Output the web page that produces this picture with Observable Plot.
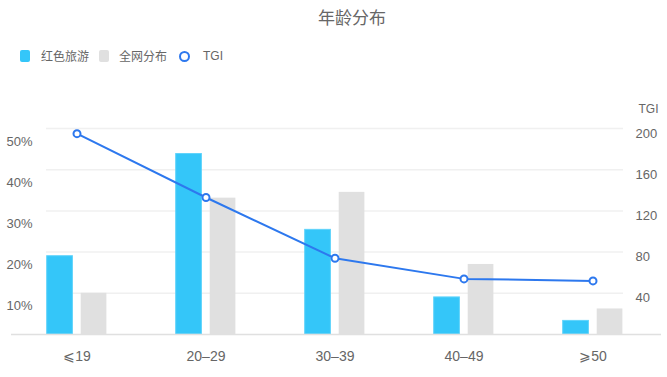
<!DOCTYPE html>
<html>
<head>
<meta charset="utf-8">
<script src="https://cdn.jsdelivr.net/npm/d3@7"></script>
<script src="https://cdn.jsdelivr.net/npm/@observablehq/plot@0.6"></script>
<style>
  html, body { margin: 0; padding: 0; background: #fff; }
  #wrap { position: relative; width: 667px; font-family: "Liberation Sans", "Noto Sans CJK SC", sans-serif; color: #666; }
  #header { position: relative; height: 76px; }
  #title { position: absolute; left: 318px; top: 6px; font-size: 17px; line-height: 22px; color: #666; font-family: "Noto Sans CJK SC", sans-serif; }
  .lg { position: absolute; font-size: 12px; line-height: 14px; top: 49px; color: #666; font-family: "Noto Sans CJK SC", "Liberation Sans", sans-serif; }
  .sw { position: absolute; top: 50px; width: 10px; height: 12px; border-radius: 2px; }
  .ring { position: absolute; top: 51px; width: 7px; height: 7px; border: 2px solid #2d78ee; border-radius: 50%; background: #fff; }
  svg { display: block; }
</style>
</head>
<body>
<div id="wrap">
  <div id="header">
    <div id="title">年龄分布</div>
    <div class="sw" style="left:20px;background:#34c6f9"></div>
    <div class="lg" style="left:41px">红色旅游</div>
    <div class="sw" style="left:99px;background:#e0e0e0"></div>
    <div class="lg" style="left:119px">全网分布</div>
    <div class="ring" style="left:179px"></div>
    <div class="lg" style="left:203px;font-family:'Liberation Sans',sans-serif">TGI</div>
  </div>
  <div id="chart"></div>
</div>
<script>
const categories = ["⩽19", "20–29", "30–39", "40–49", "⩾50"];
const redTourism = [19.0, 43.8, 25.4, 9.0, 3.3];   // %
const allNetwork = [10.0, 33.1, 34.5, 17.0, 6.2];  // %
const tgi = [195, 133, 74, 54, 52];
const pctTicks = [10, 20, 30, 40, 50];
const tgiTicks = [40, 80, 120, 160, 200];

const pctMax = 50, tgiMax = 200;
const k = tgiMax / pctMax; // percent -> shared y units

const rows = categories.map((c, i) => ({
  cat: c,
  red: redTourism[i] * k,
  grey: allNetwork[i] * k,
  tgi: tgi[i]
}));

const chart = Plot.plot({
  width: 667,
  height: 301,
  marginTop: 52,
  marginBottom: 43,
  marginLeft: 11,
  marginRight: 9,
  style: { fontFamily: "'Liberation Sans', 'Noto Sans CJK SC', sans-serif", color: "#666", background: "#fff" },
  x: { type: "band", domain: categories, padding: 0, label: null },
  y: { domain: [0, tgiMax], label: null, axis: null },
  marks: [
    Plot.ruleY(tgiTicks, { stroke: "#f0f0f0", strokeWidth: 1.5, insetLeft: 35, insetRight: 35 }),
    Plot.barY(rows, { x: "cat", y: "red", fill: "#34c6f9", stroke: "#5fd3fb", strokeWidth: 1, insetLeft: 34.7, insetRight: 68.6 }),
    Plot.barY(rows, { x: "cat", y: "grey", fill: "#e0e0e0", insetLeft: 68.7, insetRight: 34.6 }),
    Plot.ruleY([0], { stroke: "#e0e0e0", strokeWidth: 1.5, insetRight: -3 }),
    Plot.line(rows, { x: "cat", y: "tgi", stroke: "#2d78ee", strokeWidth: 2 }),
    Plot.dot(rows, { x: "cat", y: "tgi", r: 3.5, fill: "#fff", stroke: "#2d78ee", strokeWidth: 2 }),
    Plot.axisY(pctTicks.map(p => p * k), {
      anchor: "left", tickSize: 0, tickPadding: 0, dx: 21, dy: 13,
      tickFormat: d => (d / k) + "%", fontSize: 13, fill: "#666"
    }),
    Plot.axisY(tgiTicks, {
      anchor: "right", tickSize: 0, tickPadding: 0, dx: -23, dy: 5,
      fontSize: 13, fill: "#666", label: null
    }),
    Plot.text(["TGI"], { frameAnchor: "top-right", dx: -10, dy: -24, textAnchor: "middle", fontSize: 12, fill: "#666" }),
    Plot.axisX({ tickSize: 0, tickPadding: 17, fontSize: 14, fill: "#666", label: null })
  ]
});
document.getElementById("chart").appendChild(chart);
</script>
</body>
</html>
